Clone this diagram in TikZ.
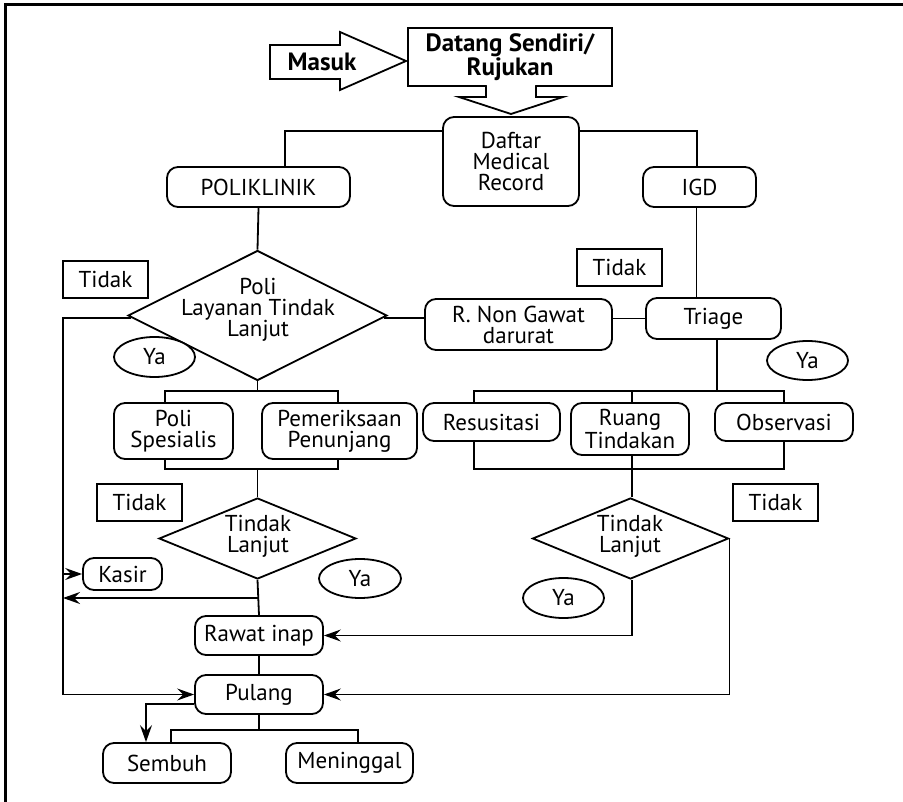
\documentclass[tikz,border=0pt]{standalone}
\usepackage{fontspec}
\setmainfont{PT Sans}
\usetikzlibrary{shapes.geometric,arrows.meta,backgrounds}
\begin{document}
\begin{tikzpicture}[x=1pt,y=-1pt,
  line width=1.8pt,
  every node/.style={font=\fontsize{23}{21}\selectfont, align=center, inner sep=0pt},
  rbox/.style={draw, rectangle, rounded corners=11pt, fill=white},
  tagbox/.style={draw, rectangle, fill=white, minimum width=85, minimum height=37},
  yestag/.style={draw, ellipse, fill=white, minimum width=81, minimum height=40},
  decision/.style={draw, diamond, fill=white},
  link/.style={line width=1.8pt},
  flow/.style={link, -{Stealth[length=17pt,width=12pt,inset=6pt]}},
  boldtext/.style={font=\fontsize{25}{23}\selectfont\bfseries},
]
\useasboundingbox (0,0) rectangle (903,802);

% frame
\draw[line width=3pt] (5.5,802) -- (5.5,4.5) -- (903,4.5);

% entry
\draw[fill=white] (270,45) -- (340,45) -- (340,32) -- (406,61) -- (340,90) -- (340,79) -- (270,79) -- cycle;
\node[boldtext] (masuk) at (322,62) {Masuk};
\node[draw, rectangle, fill=white, minimum width=204, minimum height=58, boldtext] (datang) at (510,57) {Datang Sendiri/\\Rujukan};
\fill[white] (487.2,84) rectangle (534.8,88.5);
\draw[fill=white] (486,86) -- (486,97) -- (459,97) -- (511,114) -- (563,97) -- (536,97) -- (536,86);

% registration and units
\node[rbox, minimum width=136, minimum height=89] (daftar) at (511,161.5) {Daftar\\Medical\\Record};
\node[rbox, minimum width=183, minimum height=40] (polik) at (258.5,187) {POLIKLINIK};
\node[rbox, minimum width=113, minimum height=40] (igd) at (699.5,187) {IGD};

% clinic branch
\node[decision, minimum width=259, minimum height=130] (d1) at (257.5,315.5) {};
\node (d1t) at (258,310) {Poli\\Layanan Tindak\\Lanjut};
\node[tagbox] (tidak1) at (105.5,279.5) {Tidak};
\node[yestag] (ya1) at (154.5,357) {Ya};
\node[rbox, minimum width=119, minimum height=56] (polisp) at (173.5,431) {Poli\\Spesialis};
\node[rbox, minimum width=155, minimum height=56] (pemer) at (339.5,431) {Pemeriksaan\\Penunjang};

% emergency branch
\node[rbox, minimum width=187, minimum height=51] (rnon) at (518.5,324.5) {R. Non Gawat\\darurat};
\node[tagbox] (tidak2) at (619.5,267.5) {Tidak};
\node[rbox, minimum width=135, minimum height=41] (triage) at (713.5,318.5) {Triage};
\node[yestag, minimum height=39] (ya2) at (807.5,360.5) {Ya};
\node[rbox, minimum width=137, minimum height=38] (resus) at (491.5,422) {Resusitasi};
\node[rbox, minimum width=118, minimum height=52] (ruang) at (630,429) {Ruang\\Tindakan};
\node[rbox, minimum width=138, minimum height=38] (obs) at (784,422) {Observasi};

% follow-up decisions
\node[tagbox] (tidak3) at (139.5,502.5) {Tidak};
\node[decision, minimum width=197, minimum height=81] (d2) at (257.5,538.5) {};
\node (d2t) at (258,536) {Tindak\\Lanjut};
\node[rbox, minimum width=79, minimum height=32] (kasir) at (122.5,574) {Kasir};
\node[yestag, minimum width=82, minimum height=39] (ya3) at (360,578.5) {Ya};
\node[tagbox] (tidak4) at (775.5,502.5) {Tidak};
\node[decision, minimum width=196, minimum height=81] (d3) at (630.5,538.5) {};
\node (d3t) at (630,536) {Tindak\\Lanjut};
\node[yestag] (ya4) at (563.5,598) {Ya};

% outcome
\node[rbox, minimum width=128, minimum height=39] (rawat) at (259,635.5) {Rawat inap};
\node[rbox, minimum width=128, minimum height=39] (pulang) at (259,694.5) {Pulang};
\node[rbox, minimum width=128, minimum height=40] (sembuh) at (167,763) {Sembuh};
\node[rbox, minimum width=127, minimum height=40] (menin) at (349.5,763) {Meninggal};

% connectors
\coordinate (lt) at (63,0);
\coordinate (barLtl) at (165,391);
\coordinate (barLbr) at (338,469);
\coordinate (barRtl) at (474,391);
\coordinate (barRbr) at (784,469);
\coordinate (bl) at (171,730);
\coordinate (br) at (358,730);
\begin{pgfonlayer}{background}
\begin{scope}[link]
  \draw (daftar.west |- 0,131) -| ([xshift=26.5]polik.north);
  \draw (daftar.east |- 0,131) -| ([xshift=-2.5]igd.north);
  \draw (polik.south) -- (d1.north);
  \draw ([xshift=-3]igd.south) -- ([xshift=-3]igd.south |- triage.north);
  \draw (d1.-1.6) -- (rnon.west |- d1.-1.6);
  \draw (rnon.east |- triage.west) -- (triage.west);
  \draw[flow] (d1.181.6) -| (lt |- pulang.west) -- (pulang.west);
  % clinic services bar
  \draw (d1.south) -- (d1.south |- barLtl);
  \draw (barLtl) rectangle (barLbr);
  \draw (d2.north |- barLbr) -- (d2.north);
  % emergency services bar
  \draw ([xshift=3.5]triage.south) -- ([xshift=3.5]triage.south |- barRtl);
  \draw (barRtl) rectangle (barRbr);
  \draw ([xshift=1.5]d3.north |- barRtl) -- ([xshift=1.5]d3.north);
  % decisions to outcomes
  \draw (d2.south) -- (rawat.north);
  \draw[flow] (d2.south |- 0,598) -- (lt |- 0,598);
  \draw[flow] (lt |- kasir.west) -- (kasir.west);
  \draw[flow] ([xshift=1.5]d3.south) -- ([xshift=1.5]d3.south |- rawat.east) -- (rawat.east);
  \draw[flow] (d3.east) -- (d3.east |- pulang.east) -- (pulang.east);
  \draw (rawat.south) -- (pulang.north);
  \draw[flow] (pulang.west |- 0,704) -| ([xshift=-21]sembuh.north);
  \draw (pulang.south) -- (pulang.south |- bl);
  \draw (bl |- sembuh.north) -- (bl) -- (br) -- (br |- menin.north);
\end{scope}
\end{pgfonlayer}
\end{tikzpicture}
\end{document}
